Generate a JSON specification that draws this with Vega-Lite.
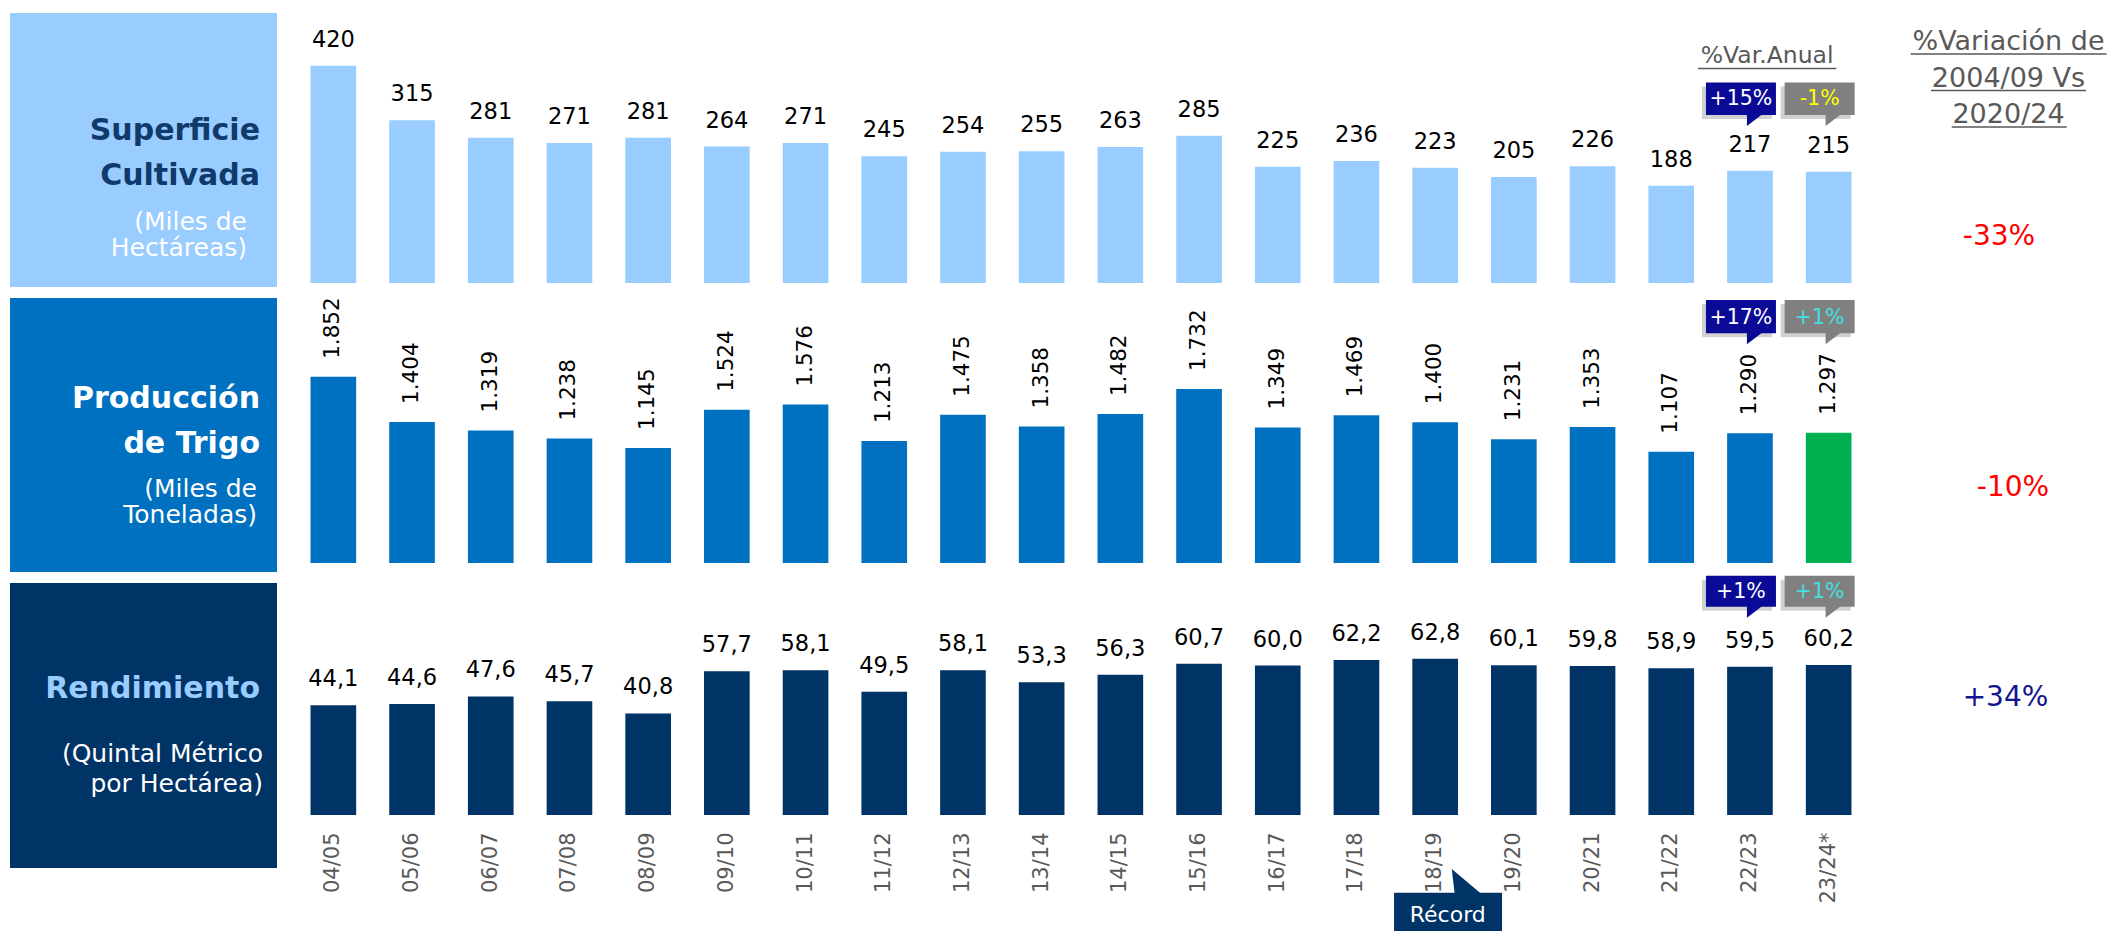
{
  "$schema": "https://vega.github.io/schema/vega-lite/v6.json",
  "background": "#FFFFFF",
  "padding": {"left": 10, "top": 13, "right": 0, "bottom": 0},
  "config": {
    "view": {"stroke": null},
    "font": "DejaVu Sans",
    "locale": {"number": {"decimal": ",", "thousands": ".", "grouping": [3], "currency": ["$", ""]}}
  },
  "datasets": {
    "campanas": [
      {"campana": "04/05", "superficie": 420, "produccion": 1852, "rendimiento": 44.1},
      {"campana": "05/06", "superficie": 315, "produccion": 1404, "rendimiento": 44.6},
      {"campana": "06/07", "superficie": 281, "produccion": 1319, "rendimiento": 47.6},
      {"campana": "07/08", "superficie": 271, "produccion": 1238, "rendimiento": 45.7},
      {"campana": "08/09", "superficie": 281, "produccion": 1145, "rendimiento": 40.8},
      {"campana": "09/10", "superficie": 264, "produccion": 1524, "rendimiento": 57.7},
      {"campana": "10/11", "superficie": 271, "produccion": 1576, "rendimiento": 58.1},
      {"campana": "11/12", "superficie": 245, "produccion": 1213, "rendimiento": 49.5},
      {"campana": "12/13", "superficie": 254, "produccion": 1475, "rendimiento": 58.1},
      {"campana": "13/14", "superficie": 255, "produccion": 1358, "rendimiento": 53.3},
      {"campana": "14/15", "superficie": 263, "produccion": 1482, "rendimiento": 56.3},
      {"campana": "15/16", "superficie": 285, "produccion": 1732, "rendimiento": 60.7},
      {"campana": "16/17", "superficie": 225, "produccion": 1349, "rendimiento": 60.0},
      {"campana": "17/18", "superficie": 236, "produccion": 1469, "rendimiento": 62.2},
      {"campana": "18/19", "superficie": 223, "produccion": 1400, "rendimiento": 62.8},
      {"campana": "19/20", "superficie": 205, "produccion": 1231, "rendimiento": 60.1},
      {"campana": "20/21", "superficie": 226, "produccion": 1353, "rendimiento": 59.8},
      {"campana": "21/22", "superficie": 188, "produccion": 1107, "rendimiento": 58.9},
      {"campana": "22/23", "superficie": 217, "produccion": 1290, "rendimiento": 59.5},
      {"campana": "23/24*", "superficie": 215, "produccion": 1297, "rendimiento": 60.2}
    ],
    "variacion": [
      {"campana": "22/23", "superficie": "+15%", "produccion": "+17%", "rendimiento": "+1%"},
      {"campana": "23/24*", "superficie": "-1%", "produccion": "+1%", "rendimiento": "+1%"}
    ],
    "record": [{"campana": "18/19", "texto": "Récord"}]
  },
  "columns": 3,
  "spacing": {"row": 11, "column": 17},
  "bounds": "flush",
  "concat": [
    {
      "width": 267, "height": 274,
      "view": {"fill": "#99CCFF", "stroke": null},
      "data": {"values": [{"titulo": ["Superficie", "Cultivada"], "unidad": ["(Miles de", "Hectáreas)"]}]},
      "layer": [
        {"mark": {"type": "text", "x": "width", "dx": -17, "y": 127, "align": "right", "baseline": "alphabetic", "fontSize": 30, "fontWeight": "bold", "lineHeight": 45, "color": "#0F3A6B"}, "encoding": {"text": {"field": "titulo", "type": "nominal"}}},
        {"mark": {"type": "text", "x": "width", "dx": -30, "y": 217, "align": "right", "baseline": "alphabetic", "fontSize": 25, "lineHeight": 26, "color": "#FFFFFF"}, "encoding": {"text": {"field": "unidad", "type": "nominal"}}}
      ]
    },
    {
      "width": 1574, "height": 274,
      "data": {"name": "campanas"},
      "encoding": {"x": {"field": "campana", "type": "nominal", "axis": null, "scale": {"domain": ["04/05","05/06","06/07","07/08","08/09","09/10","10/11","11/12","12/13","13/14","14/15","15/16","16/17","17/18","18/19","19/20","20/21","21/22","22/23","23/24*"], "paddingInner": 0.42, "paddingOuter": 0.21}}},
      "layer": [
        {"mark": {"type": "bar", "color": "#99CCFF"}, "encoding": {"y": {"field": "superficie", "type": "quantitative", "axis": null, "scale": {"domain": [-7.737, 522.24], "nice": false, "zero": false}}, "y2": {"datum": 0}}},
        {"mark": {"type": "text", "baseline": "alphabetic", "dy": -19, "fontSize": 22.5, "color": "#000000"}, "encoding": {"y": {"field": "superficie", "type": "quantitative"}, "text": {"field": "superficie", "type": "quantitative", "format": "d"}}},
        {"data": {"name": "variacion"}, "mark": {"type": "bar", "width": 70, "xOffset": -13, "yOffset": 4, "y2Offset": 4, "color": "#000000", "opacity": 0.18}, "encoding": {"y": {"datum": 388.0}, "y2": {"datum": 325.0}}},
        {"data": {"name": "variacion"}, "mark": {"type": "bar", "width": 70, "xOffset": -9}, "encoding": {"y": {"datum": 388.0}, "y2": {"datum": 325.0}, "color": {"condition": {"test": "datum.campana === '22/23'", "value": "#0A0A96"}, "value": "#808080"}}},
        {"data": {"name": "variacion"}, "mark": {"type": "point", "shape": "M -0.15 -0.1 L 0.7 -0.1 L -0.15 0.55 Z", "size": 1600, "filled": true, "opacity": 1, "strokeWidth": 0}, "encoding": {"y": {"datum": 325.0}, "color": {"condition": {"test": "datum.campana === '22/23'", "value": "#0A0A96"}, "value": "#808080"}}},
        {"data": {"name": "variacion"}, "mark": {"type": "text", "xOffset": -9, "baseline": "middle", "dy": 1, "fontSize": 20.5}, "encoding": {"y": {"datum": 357.5}, "text": {"field": "superficie", "type": "nominal"}, "color": {"condition": [{"test": "datum.campana === '22/23'", "value": "#FFFFFF"}, {"test": "datum.superficie[0] === '-'", "value": "#FFFF00"}], "value": "#40E0E0"}}},
        {"data": {"values": [{"titulo": "%Var.Anual"}]}, "mark": {"type": "text", "xOffset": 17.2, "baseline": "alphabetic", "fontSize": 23.5, "color": "#595959"}, "encoding": {"x": {"datum": "22/23"}, "y": {"datum": 424.8}, "text": {"field": "titulo", "type": "nominal"}}},
        {"data": {"values": [{"titulo": "%Var.Anual"}]}, "mark": {"type": "rule", "xOffset": -52, "x2Offset": 7.7, "color": "#595959", "strokeWidth": 1.5}, "encoding": {"x": {"datum": "22/23"}, "x2": {"datum": "23/24*"}, "y": {"datum": 415.1}}}
      ]
    },
    {
      "width": 228, "height": 274,
      "data": {"values": [{"encabezado": ["%Variación de", "2004/09 Vs", "2020/24"], "variacion": "-33%"}]},
      "layer": [
        {"mark": {"type": "text", "x": 123.5, "y": 37, "align": "center", "baseline": "alphabetic", "fontSize": 27, "lineHeight": 36.7, "color": "#595959"}, "encoding": {"text": {"field": "encabezado", "type": "nominal"}}},
        {"mark": {"type": "rule", "color": "#595959", "strokeWidth": 1.5}, "encoding": {"x": {"value": 25.5}, "x2": {"value": 221.5}, "y": {"value": 41}}},
        {"mark": {"type": "rule", "color": "#595959", "strokeWidth": 1.5}, "encoding": {"x": {"value": 46}, "x2": {"value": 201}, "y": {"value": 77.5}}},
        {"mark": {"type": "rule", "color": "#595959", "strokeWidth": 1.5}, "encoding": {"x": {"value": 66.7}, "x2": {"value": 181.7}, "y": {"value": 114}}},
        {"mark": {"type": "text", "x": 114, "y": 232, "align": "center", "baseline": "alphabetic", "fontSize": 28, "color": "#FF0000"}, "encoding": {"text": {"field": "variacion", "type": "nominal"}}}
      ]
    },
    {
      "width": 267, "height": 274,
      "view": {"fill": "#0070C0", "stroke": null},
      "data": {"values": [{"titulo": ["Producción", "de Trigo"], "unidad": ["(Miles de", "Toneladas)"]}]},
      "layer": [
        {"mark": {"type": "text", "x": "width", "dx": -17, "y": 110.3, "align": "right", "baseline": "alphabetic", "fontSize": 30, "fontWeight": "bold", "lineHeight": 45, "color": "#FFFFFF"}, "encoding": {"text": {"field": "titulo", "type": "nominal"}}},
        {"mark": {"type": "text", "x": "width", "dx": -20, "y": 198.7, "align": "right", "baseline": "alphabetic", "fontSize": 25, "lineHeight": 26.6, "color": "#FFFFFF"}, "encoding": {"text": {"field": "unidad", "type": "nominal"}}}
      ]
    },
    {
      "width": 1574, "height": 274,
      "data": {"name": "campanas"},
      "encoding": {"x": {"field": "campana", "type": "nominal", "axis": null, "scale": {"domain": ["04/05","05/06","06/07","07/08","08/09","09/10","10/11","11/12","12/13","13/14","14/15","15/16","16/17","17/18","18/19","19/20","20/21","21/22","22/23","23/24*"], "paddingInner": 0.42, "paddingOuter": 0.21}}},
      "layer": [
        {"mark": {"type": "bar"}, "encoding": {"y": {"field": "produccion", "type": "quantitative", "axis": null, "scale": {"domain": [-89.55, 2636.8], "nice": false, "zero": false}}, "y2": {"datum": 0}, "color": {"condition": {"test": "datum.campana === '23/24*'", "value": "#00B050"}, "value": "#0070C0"}}},
        {"mark": {"type": "text", "angle": 270, "align": "left", "baseline": "middle", "dx": 18, "fontSize": 21.5, "color": "#000000"}, "encoding": {"y": {"field": "produccion", "type": "quantitative"}, "text": {"field": "produccion", "type": "quantitative", "format": ",.0f"}}},
        {"data": {"name": "variacion"}, "mark": {"type": "bar", "width": 70, "xOffset": -13, "yOffset": 4, "y2Offset": 4, "color": "#000000", "opacity": 0.18}, "encoding": {"y": {"datum": 2616.9}, "y2": {"datum": 2285.6}}},
        {"data": {"name": "variacion"}, "mark": {"type": "bar", "width": 70, "xOffset": -9}, "encoding": {"y": {"datum": 2616.9}, "y2": {"datum": 2285.6}, "color": {"condition": {"test": "datum.campana === '22/23'", "value": "#0A0A96"}, "value": "#808080"}}},
        {"data": {"name": "variacion"}, "mark": {"type": "point", "shape": "M -0.15 -0.1 L 0.7 -0.1 L -0.15 0.55 Z", "size": 1600, "filled": true, "opacity": 1, "strokeWidth": 0}, "encoding": {"y": {"datum": 2285.6}, "color": {"condition": {"test": "datum.campana === '22/23'", "value": "#0A0A96"}, "value": "#808080"}}},
        {"data": {"name": "variacion"}, "mark": {"type": "text", "xOffset": -9, "baseline": "middle", "dy": 1, "fontSize": 20.5}, "encoding": {"y": {"datum": 2450.7}, "text": {"field": "produccion", "type": "nominal"}, "color": {"condition": [{"test": "datum.campana === '22/23'", "value": "#FFFFFF"}, {"test": "datum.produccion[0] === '-'", "value": "#FFFF00"}], "value": "#40E0E0"}}}
      ]
    },
    {
      "width": 228, "height": 274,
      "data": {"values": [{"variacion": "-10%"}]},
      "mark": {"type": "text", "x": 128, "y": 198, "align": "center", "baseline": "alphabetic", "fontSize": 28, "color": "#FF0000"},
      "encoding": {"text": {"field": "variacion", "type": "nominal"}}
    },
    {
      "width": 267, "height": 285,
      "view": {"fill": "#003366", "stroke": null},
      "data": {"values": [{"titulo": "Rendimiento", "unidad": ["(Quintal Métrico", "por Hectárea)"]}]},
      "layer": [
        {"mark": {"type": "text", "x": "width", "dx": -17, "y": 115.3, "align": "right", "baseline": "alphabetic", "fontSize": 30, "fontWeight": "bold", "color": "#99CCFF"}, "encoding": {"text": {"field": "titulo", "type": "nominal"}}},
        {"mark": {"type": "text", "x": "width", "dx": -14, "y": 178.7, "align": "right", "baseline": "alphabetic", "fontSize": 25, "lineHeight": 30, "color": "#FFFFFF"}, "encoding": {"text": {"field": "unidad", "type": "nominal"}}}
      ]
    },
    {
      "width": 1574, "height": 232,
      "data": {"name": "campanas"},
      "encoding": {"x": {"field": "campana", "type": "nominal", "scale": {"domain": ["04/05","05/06","06/07","07/08","08/09","09/10","10/11","11/12","12/13","13/14","14/15","15/16","16/17","17/18","18/19","19/20","20/21","21/22","22/23","23/24*"], "paddingInner": 0.42, "paddingOuter": 0.21}, "axis": {"title": null, "labelAngle": -90, "labelAlign": "right", "labelBaseline": "middle", "labelPadding": 17, "domain": false, "ticks": false, "tickSize": 0, "labelFontSize": 21, "labelColor": "#595959", "labelOverlap": false, "labelBound": false}}},
      "layer": [
        {"mark": {"type": "bar", "color": "#003366"}, "encoding": {"y": {"field": "rendimiento", "type": "quantitative", "axis": null, "scale": {"domain": [0, 93.173], "nice": false, "zero": false}}, "y2": {"datum": 0}}},
        {"mark": {"type": "text", "baseline": "alphabetic", "dy": -19, "fontSize": 22.5, "color": "#000000"}, "encoding": {"y": {"field": "rendimiento", "type": "quantitative"}, "text": {"field": "rendimiento", "type": "quantitative", "format": ".1f"}}},
        {"data": {"name": "variacion"}, "mark": {"type": "bar", "width": 70, "xOffset": -13, "yOffset": 4, "y2Offset": 4, "color": "#000000", "opacity": 0.18}, "encoding": {"y": {"datum": 96.1}, "y2": {"datum": 83.65}}},
        {"data": {"name": "variacion"}, "mark": {"type": "bar", "width": 70, "xOffset": -9}, "encoding": {"y": {"datum": 96.1}, "y2": {"datum": 83.65}, "color": {"condition": {"test": "datum.campana === '22/23'", "value": "#0A0A96"}, "value": "#808080"}}},
        {"data": {"name": "variacion"}, "mark": {"type": "point", "shape": "M -0.15 -0.1 L 0.7 -0.1 L -0.15 0.55 Z", "size": 1600, "filled": true, "opacity": 1, "strokeWidth": 0}, "encoding": {"y": {"datum": 83.65}, "color": {"condition": {"test": "datum.campana === '22/23'", "value": "#0A0A96"}, "value": "#808080"}}},
        {"data": {"name": "variacion"}, "mark": {"type": "text", "xOffset": -9, "baseline": "middle", "dy": 1, "fontSize": 20.5}, "encoding": {"y": {"datum": 89.9}, "text": {"field": "rendimiento", "type": "nominal"}, "color": {"condition": [{"test": "datum.campana === '22/23'", "value": "#FFFFFF"}, {"test": "datum.rendimiento[0] === '-'", "value": "#FFFF00"}], "value": "#40E0E0"}}},
        {"data": {"name": "record"}, "mark": {"type": "bar", "width": 108, "xOffset": 12.9, "color": "#003366"}, "encoding": {"y": {"datum": -31.2}, "y2": {"datum": -46.6}}},
        {"data": {"name": "record"}, "mark": {"type": "point", "shape": "M -0.536 -0.948 L -0.416 0.06 L 0.664 0.06 Z", "size": 2500, "xOffset": 30, "filled": true, "opacity": 1, "strokeWidth": 0, "color": "#003366"}, "encoding": {"y": {"datum": -31.2}}},
        {"data": {"name": "record"}, "mark": {"type": "text", "xOffset": 12.6, "baseline": "alphabetic", "fontSize": 22, "color": "#FFFFFF"}, "encoding": {"y": {"datum": -42.85}, "text": {"field": "texto", "type": "nominal"}}}
      ]
    },
    {
      "width": 228, "height": 232,
      "data": {"values": [{"variacion": "+34%"}]},
      "mark": {"type": "text", "x": 120.5, "y": 123, "align": "center", "baseline": "alphabetic", "fontSize": 28, "color": "#14148F"},
      "encoding": {"text": {"field": "variacion", "type": "nominal"}}
    }
  ]
}
